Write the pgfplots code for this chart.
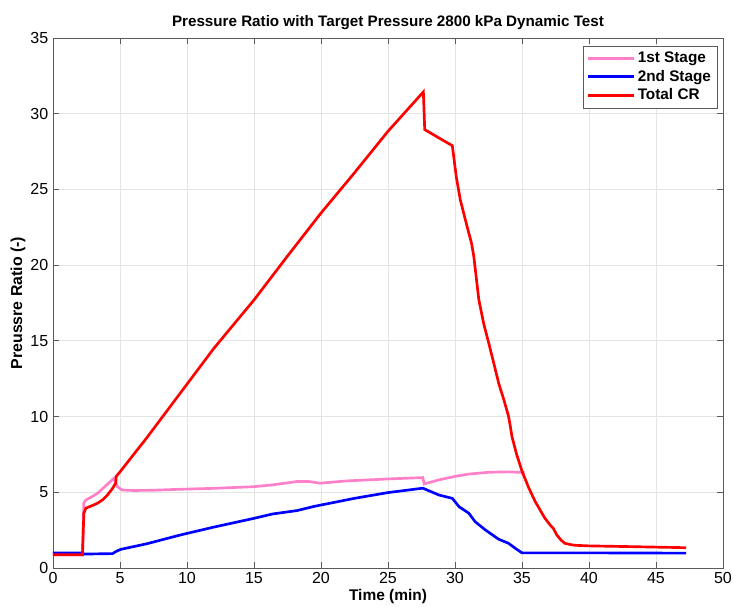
\documentclass[border=0pt]{standalone}
\usepackage{fontspec}
\setmainfont{Liberation Sans}
\usepackage{pgfplots}
\pgfplotsset{compat=1.18}
\definecolor{pinkc}{RGB}{255,128,200}
\definecolor{axgray}{RGB}{90,90,90}
\definecolor{gridc}{RGB}{228,228,228}
\begin{document}
\begin{tikzpicture}
\begin{axis}[
  scale only axis,
  width=502.5pt, height=397.5pt,
  xmin=0, xmax=50, ymin=0, ymax=35,
  xtick={0,5,...,50}, ytick={0,5,...,35},
  grid=major,
  major grid style={gridc, line width=0.6pt},
  axis line style={axgray, line width=0.7pt},
  tick style={axgray, line width=0.6pt},
  major tick length=4.5pt,
  tick align=inside,
  xtick pos=both, ytick pos=both,
  /pgf/number format/assume math mode=true,
  ticklabel style={font=\fontsize{12}{14}\selectfont},
  title={\bfseries Pressure Ratio with Target Pressure 2800 kPa Dynamic Test},
  title style={font=\fontsize{11.4}{13}\selectfont, yshift=-3pt},
  xlabel={\bfseries Time (min)},
  ylabel={\bfseries Preussre Ratio (-)},
  xlabel style={font=\fontsize{11.6}{13}\selectfont, yshift=3pt},
  ylabel style={font=\fontsize{11.9}{13}\selectfont, yshift=-3pt},
  legend style={at={(0.9915,0.985)}, anchor=north east, draw=axgray,
    font=\fontsize{11.5}{13}\selectfont\bfseries, row sep=0pt, inner sep=2.5pt,
    /tikz/every even column/.append style={column sep=1pt}},
  legend cell align=left,
  legend image code/.code={\draw[#1, line width=2pt] (0cm,0cm) -- (1.2cm,0cm);},
]
\addplot[pinkc, line width=2pt] coordinates {
(0,0.88) (2.2,0.88) (2.3,4.3) (2.45,4.49) (2.9,4.7) (3.32,4.93) (3.9,5.4) (4.55,5.93) (4.65,5.7) (4.8,5.37) (5.17,5.15) (6,5.12) (7.3,5.13) (9.5,5.2) (12,5.26) (15,5.37) (16.4,5.49) (18.2,5.71) (19.1,5.71) (19.9,5.6) (21.9,5.75) (25,5.88) (27.6,5.97) (27.7,5.55) (28.8,5.82) (30,6.05) (31,6.2) (32.5,6.32) (34,6.35) (35.2,6.3)
};
\addlegendentry{1st Stage}
\addplot[blue, line width=2pt] coordinates {
(0,1.0) (2.2,1.0) (2.3,0.92) (4.45,0.95) (4.68,1.08) (5.05,1.23) (7,1.6) (9.5,2.18) (12,2.7) (15,3.28) (16.4,3.57) (18.2,3.79) (19.4,4.05) (20,4.16) (22.5,4.6) (25,4.98) (27.6,5.27) (28.8,4.82) (29.8,4.6) (30.3,4.05) (31.03,3.62) (31.5,3.06) (32.27,2.51) (33.26,1.9) (34.0,1.63) (34.5,1.3) (35.0,1.0) (40,1.0) (47.25,0.98)
};
\addlegendentry{2nd Stage}
\addplot[red, line width=2pt] coordinates {
(0,0.88) (2.2,0.88) (2.3,3.6) (2.45,3.95) (3.0,4.15) (3.32,4.28) (3.7,4.5) (4.06,4.82) (4.4,5.2) (4.68,5.6) (4.72,6.05) (5,6.35) (7,8.6) (9.5,11.55) (12,14.5) (15,17.7) (17.5,20.6) (20,23.44) (22.5,26.1) (25,28.84) (27.64,31.44) (27.74,28.95) (28.8,28.4) (29.8,27.89) (30.1,25.8) (30.4,24.3) (30.9,22.56) (31.23,21.46) (31.4,20.6) (31.78,17.71) (32.15,16.1) (32.52,14.85) (32.9,13.5) (33.26,12.2) (33.65,11.1) (34.0,10.0) (34.1,9.5) (34.25,8.68) (34.6,7.5) (35.0,6.4) (35.5,5.3) (35.98,4.4) (36.35,3.83) (36.7,3.3) (37.1,2.84) (37.35,2.6) (37.6,2.18) (37.9,1.85) (38.2,1.63) (38.6,1.55) (38.95,1.5) (40,1.46) (43.2,1.41) (47.25,1.34)
};
\addlegendentry{Total CR}
\end{axis}
\pgfresetboundingbox
\path (-39.75pt,-29.25pt) rectangle (510pt,426pt);
\end{tikzpicture}
\end{document}
